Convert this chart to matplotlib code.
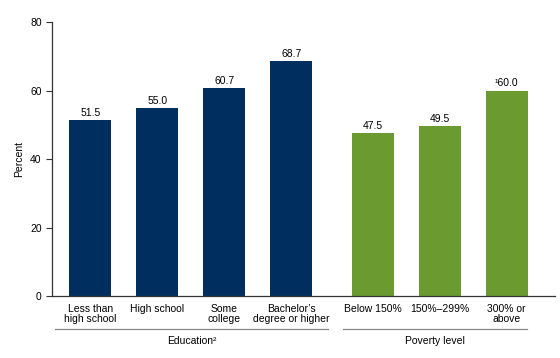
import matplotlib
matplotlib.use("Agg")
import matplotlib.pyplot as plt

plt.rcParams['font.family'] = ['Liberation Sans', 'DejaVu Sans']

edu_labels = ["Less than\nhigh school", "High school", "Some\ncollege", "Bachelor\u2019s\ndegree or higher"]
edu_values = [51.5, 55.0, 60.7, 68.7]
pov_labels = ["Below 150%", "150%\u2013299%", "300% or\nabove"]
pov_values = [47.5, 49.5, 60.0]
pov_text = ["47.5", "49.5", "\u00b960.0"]

navy = "#002F5F"
green = "#6A9A30"

edu_x = [0, 1, 2, 3]
pov_x = [4.22, 5.22, 6.22]

fig = plt.figure(figsize=(5.6, 3.58), dpi=100)
ax = fig.add_axes([0.093, 0.173, 0.898, 0.7655])

ax.bar(edu_x, edu_values, width=0.63, color=navy)
ax.bar(pov_x, pov_values, width=0.63, color=green)

for x, v in zip(edu_x, edu_values):
    ax.text(x, v + 0.6, f"{v:.1f}", ha="center", va="bottom", fontsize=7.5)
for x, v, t in zip(pov_x, pov_values, pov_text):
    ax.text(x, v + 0.6, t, ha="center", va="bottom", fontsize=7.5)

ax.set_xlim(-0.57, 6.94)
ax.set_ylim(0, 80)
ax.set_yticks([0, 20, 40, 60, 80])
ax.tick_params(axis="y", labelsize=7.5, length=4, width=0.8, color="#333333")
ax.set_xticks(edu_x + pov_x)
ax.set_xticklabels(edu_labels + pov_labels, fontsize=7.5, va="top", linespacing=1.0)
ax.tick_params(axis="x", length=0, pad=6)
ax.set_ylabel("Percent", fontsize=7.5, labelpad=4)

for s in ["top", "right"]:
    ax.spines[s].set_visible(False)
ax.spines["left"].set_color("#333333")
ax.spines["bottom"].set_color("#333333")
ax.spines["left"].set_linewidth(0.9)
ax.spines["bottom"].set_linewidth(0.9)

# group brackets
ax.plot([-0.52, 3.55], [-9.6, -9.6], color="#888888", lw=0.9, clip_on=False)
ax.plot([3.78, 6.52], [-9.6, -9.6], color="#888888", lw=0.9, clip_on=False)
ax.text(1.52, -11.8, "Education\u00b2", ha="center", va="top", fontsize=7.5)
ax.text(5.15, -11.8, "Poverty level", ha="center", va="top", fontsize=7.5)

fig.savefig("out.png", dpi=100)
